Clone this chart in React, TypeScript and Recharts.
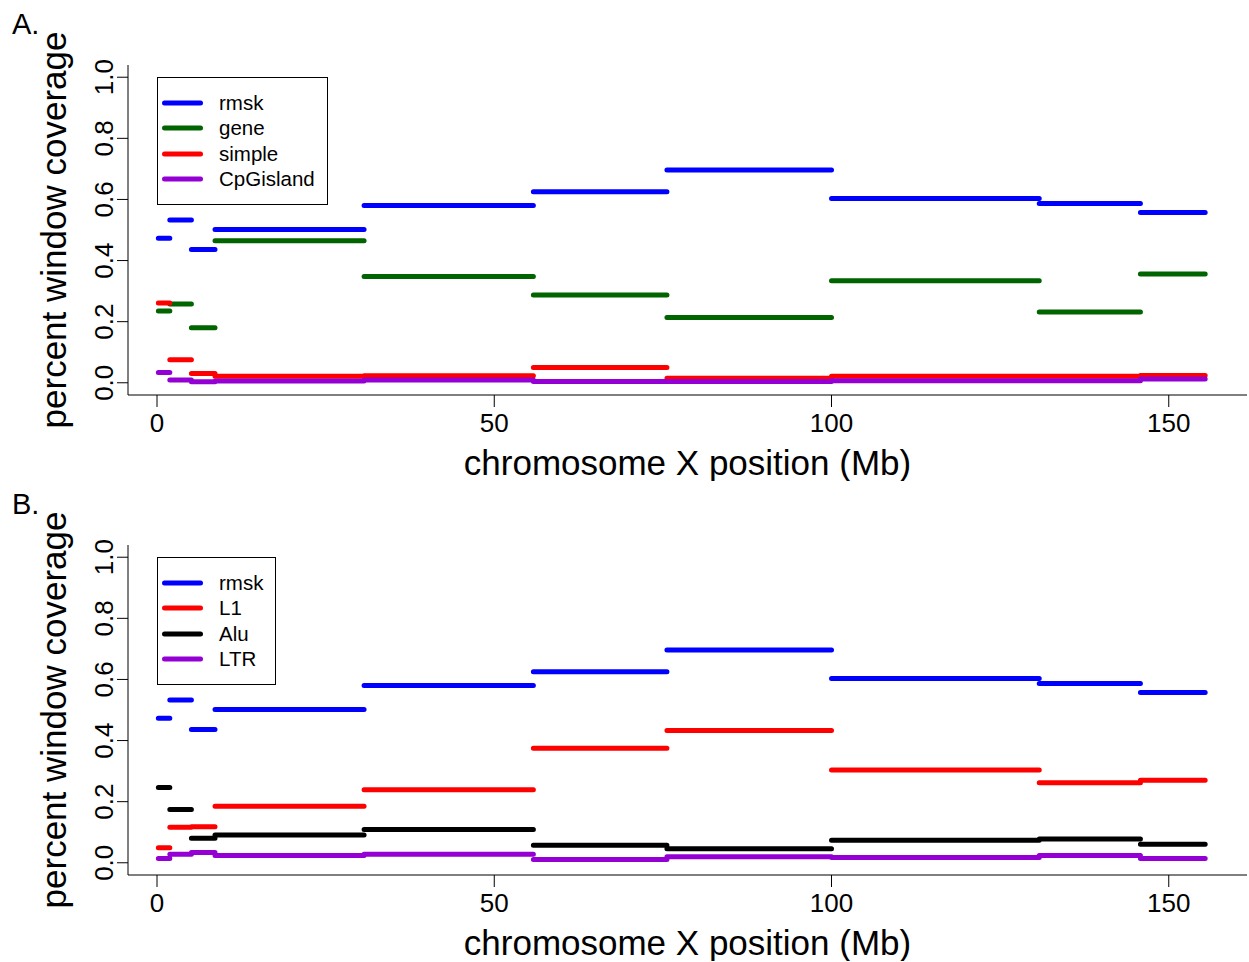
import React from 'react';
import { LineChart, Line, XAxis, YAxis, Legend } from 'recharts';

const FONT = '"Liberation Sans", Arial, Helvetica, sans-serif';

// window boundaries (Mb)
const segStarts = [0.2, 1.9, 5.1, 8.6, 30.7, 55.8, 75.6, 100, 130.8, 145.8];
const segEnds = [1.9, 5.1, 8.6, 30.7, 55.8, 75.6, 100, 130.8, 145.8, 155.4];

// panel A
const rmsk = [0.473, 0.533, 0.436, 0.502, 0.58, 0.625, 0.696, 0.603, 0.587, 0.557];
const gene = [0.235, 0.258, 0.18, 0.465, 0.348, 0.287, 0.214, 0.334, 0.232, 0.356];
const simple = [0.261, 0.075, 0.03, 0.021, 0.023, 0.05, 0.015, 0.021, 0.021, 0.024];
const cpgIsland = [0.034, 0.009, 0.003, 0.006, 0.009, 0.004, 0.004, 0.007, 0.007, 0.012];

// panel B
const l1 = [0.049, 0.116, 0.118, 0.185, 0.239, 0.375, 0.433, 0.304, 0.262, 0.27];
const alu = [0.246, 0.174, 0.08, 0.091, 0.109, 0.057, 0.046, 0.074, 0.078, 0.061];
const ltr = [0.014, 0.028, 0.034, 0.024, 0.028, 0.011, 0.02, 0.017, 0.024, 0.014];

const xTicks = [0, 50, 100, 150];
const yTicks = [0, 0.2, 0.4, 0.6, 0.8, 1.0];

const seriesA = [
  { name: 'rmsk', color: '#0000FF', values: rmsk },
  { name: 'gene', color: '#006400', values: gene },
  { name: 'simple', color: '#FF0000', values: simple },
  { name: 'CpGisland', color: '#9400D3', values: cpgIsland },
];
const seriesB = [
  { name: 'rmsk', color: '#0000FF', values: rmsk },
  { name: 'L1', color: '#FF0000', values: l1 },
  { name: 'Alu', color: '#000000', values: alu },
  { name: 'LTR', color: '#9400D3', values: ltr },
];

function toSteps(values: number[]) {
  const pts: { x: number; y: number | null }[] = [];
  values.forEach((v, i) => {
    pts.push({ x: segStarts[i], y: v });
    pts.push({ x: segEnds[i], y: v });
    if (i < values.length - 1) pts.push({ x: segEnds[i], y: null });
  });
  return pts;
}

const YTick = (props: any) => {
  const { y, payload } = props;
  return (
    <text
      x={113}
      y={y}
      transform={`rotate(-90 113 ${y})`}
      textAnchor="middle"
      fontSize={26}
      fontFamily={FONT}
      fill="#000"
    >
      {Number(payload.value).toFixed(1)}
    </text>
  );
};

const LegendBox = ({ payload, width, order }: any) => {
  const items = [...(payload || [])].sort(
    (a: any, b: any) => order.indexOf(a.value) - order.indexOf(b.value)
  );
  return (
    <div
      style={{
        border: '1px solid #000',
        width,
        height: 128,
        boxSizing: 'border-box',
        background: '#fff',
        position: 'relative',
        fontFamily: FONT,
      }}
    >
      {items.map((p: any, i: number) => (
        <div
          key={p.value}
          style={{
            position: 'absolute',
            left: 0,
            top: 25 + i * 25.3 - 12,
            height: 24,
            display: 'flex',
            alignItems: 'center',
          }}
        >
          <svg width={50} height={24} style={{ display: 'block' }}>
            <line x1={6.5} x2={42.5} y1={12} y2={12} stroke={p.color} strokeWidth={5} strokeLinecap="round" />
          </svg>
          <span style={{ marginLeft: 11, fontSize: 20.5, lineHeight: '24px', color: '#000', whiteSpace: 'nowrap' }}>
            {p.value}
          </span>
        </div>
      ))}
    </div>
  );
};

function Panel({ tag, series, legendWidth }: { tag: string; series: any[]; legendWidth: number }) {
  const order = series.map((s) => s.name);
  return (
    <div style={{ position: 'relative', width: 1249, height: 481 }}>
      <LineChart width={1249} height={481} margin={{ top: 65, right: 2, bottom: 0, left: 0 }}>
        <XAxis
          xAxisId="b"
          type="number"
          dataKey="x"
          domain={[-4.3, 161.6]}
          allowDataOverflow
          ticks={xTicks}
          tickSize={12}
          tickMargin={7}
          height={86}
          axisLine={{ stroke: '#000' }}
          tickLine={{ stroke: '#000' }}
          tick={{ fontSize: 26, fill: '#000', fontFamily: FONT }}
          label={{
            content: () => (
              <text x={687.5} y={475} textAnchor="middle" fontSize={35} fontFamily={FONT} fill="#000">
                chromosome X position (Mb)
              </text>
            ),
          }}
        />
        <XAxis
          xAxisId="t"
          orientation="top"
          type="number"
          domain={[-4.3, 161.6]}
          allowDataOverflow
          height={0}
          tick={false}
          tickLine={false}
          axisLine={{ stroke: '#000' }}
        />
        <YAxis
          yAxisId="l"
          type="number"
          domain={[-0.04, 1.04]}
          allowDataOverflow
          ticks={yTicks}
          width={128}
          tickSize={11}
          axisLine={{ stroke: '#000' }}
          tickLine={{ stroke: '#000' }}
          tick={<YTick />}
          label={{
            content: () => (
              <text
                x={66}
                y={230}
                transform="rotate(-90 66 230)"
                textAnchor="middle"
                fontSize={35}
                fontFamily={FONT}
                fill="#000"
              >
                percent window coverage
              </text>
            ),
          }}
        />
        <YAxis
          yAxisId="r"
          orientation="right"
          type="number"
          domain={[-0.04, 1.04]}
          allowDataOverflow
          width={0}
          tick={false}
          tickLine={false}
          axisLine={{ stroke: '#000' }}
        />
        {series.map((s) => (
          <Line
            key={s.name}
            xAxisId="b"
            yAxisId="l"
            data={toSteps(s.values)}
            dataKey="y"
            name={s.name}
            stroke={s.color}
            strokeWidth={5}
            strokeLinecap="round"
            dot={false}
            activeDot={false}
            connectNulls={false}
            isAnimationActive={false}
          />
        ))}
        <Legend
          layout="vertical"
          align="center"
          verticalAlign="middle"
          wrapperStyle={{ left: 157, top: 77, width: legendWidth, height: 128 }}
          content={(props: any) => <LegendBox payload={props.payload} width={legendWidth} order={order} />}
        />
      </LineChart>
      <svg width={60} height={45} style={{ position: 'absolute', left: 0, top: 0, pointerEvents: 'none' }}>
        <text x={12} y={34} fontSize={29} fontFamily={FONT} fill="#000">
          {tag}
        </text>
      </svg>
    </div>
  );
}

export default function App() {
  return (
    <div style={{ position: 'absolute', left: 0, top: 0, width: 1249, height: 962, background: '#fff' }}>
      <div style={{ position: 'absolute', left: 0, top: 0 }}>
        <Panel tag="A." series={seriesA} legendWidth={171} />
      </div>
      <div style={{ position: 'absolute', left: 0, top: 480 }}>
        <Panel tag="B." series={seriesB} legendWidth={119} />
      </div>
    </div>
  );
}
